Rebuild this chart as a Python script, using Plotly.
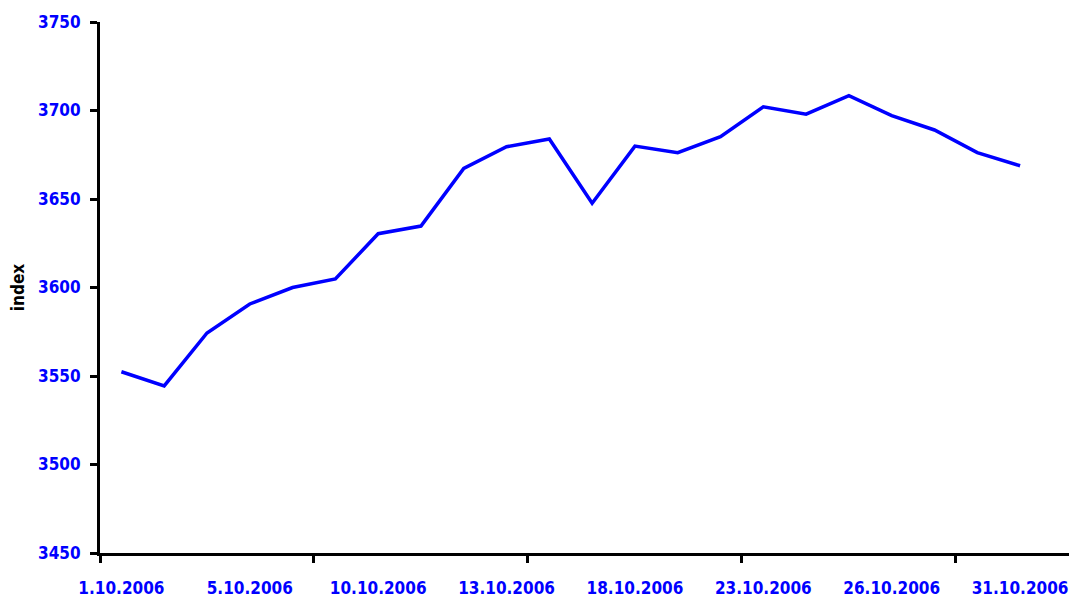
import plotly.graph_objects as go

dates = ["1.10.2006", "3.10.2006", "4.10.2006", "5.10.2006", "6.10.2006",
         "9.10.2006", "10.10.2006", "11.10.2006", "12.10.2006", "13.10.2006",
         "16.10.2006", "17.10.2006", "18.10.2006", "19.10.2006", "20.10.2006",
         "23.10.2006", "24.10.2006", "25.10.2006", "26.10.2006", "27.10.2006",
         "30.10.2006", "31.10.2006"]
index_values = [3552.4, 3544.4, 3574.3, 3590.7, 3600.0, 3604.8, 3630.4, 3634.7,
                3667.3, 3679.5, 3683.9, 3647.6, 3679.9, 3676.2, 3685.2, 3702.1,
                3697.9, 3708.4, 3697.1, 3689.0, 3676.2, 3668.8]
y_ticks = [3450, 3500, 3550, 3600, 3650, 3700, 3750]

FONT = "DejaVu Sans Condensed, DejaVu Sans, sans-serif"
BLUE = "#0000ff"

positions = list(range(len(dates)))
label_pos = positions[::3]
label_text = [dates[i] for i in label_pos]
boundaries = [i - 0.5 for i in positions[::5]]
x_range = [-0.5, 22.33]

fig = go.Figure()
fig.add_trace(go.Scatter(x=positions, y=index_values, mode="lines",
                         line=dict(color=BLUE, width=3.5), showlegend=False,
                         customdata=dates,
                         hovertemplate="%{customdata}: %{y}<extra></extra>"))

# the page body has an 8px default margin, so the figure is offset by 8px
fig.update_layout(
    width=1069, height=589,
    margin=dict(l=92, r=0, t=14, b=44),
    paper_bgcolor="white", plot_bgcolor="white",
    font=dict(family=FONT, size=17, color=BLUE, weight="bold"),
    xaxis=dict(range=x_range, tickmode="array", tickvals=label_pos,
               ticktext=label_text, ticks="", showgrid=False, zeroline=False,
               showline=True, linecolor="black", linewidth=3, automargin=False,
               tickfont=dict(family=FONT, size=17, color=BLUE, weight="bold"),
               ticklabelstandoff=18,
               minor=dict(tickmode="array", tickvals=boundaries,
                          ticks="outside", ticklen=7, tickwidth=3,
                          tickcolor="black", showgrid=False)),
    yaxis=dict(range=[3450, 3750], tickmode="array", tickvals=y_ticks,
               ticks="outside", ticklen=7, tickwidth=3, tickcolor="black",
               showgrid=False, zeroline=False, showline=True, automargin=False,
               linecolor="black", linewidth=3,
               tickfont=dict(family=FONT, size=17, color=BLUE, weight="bold"),
               ticklabelstandoff=6,
               title=dict(text="index", standoff=14,
                          font=dict(family=FONT, size=17, color="black",
                                    weight="bold"))),
)

fig.write_html("out.html")
